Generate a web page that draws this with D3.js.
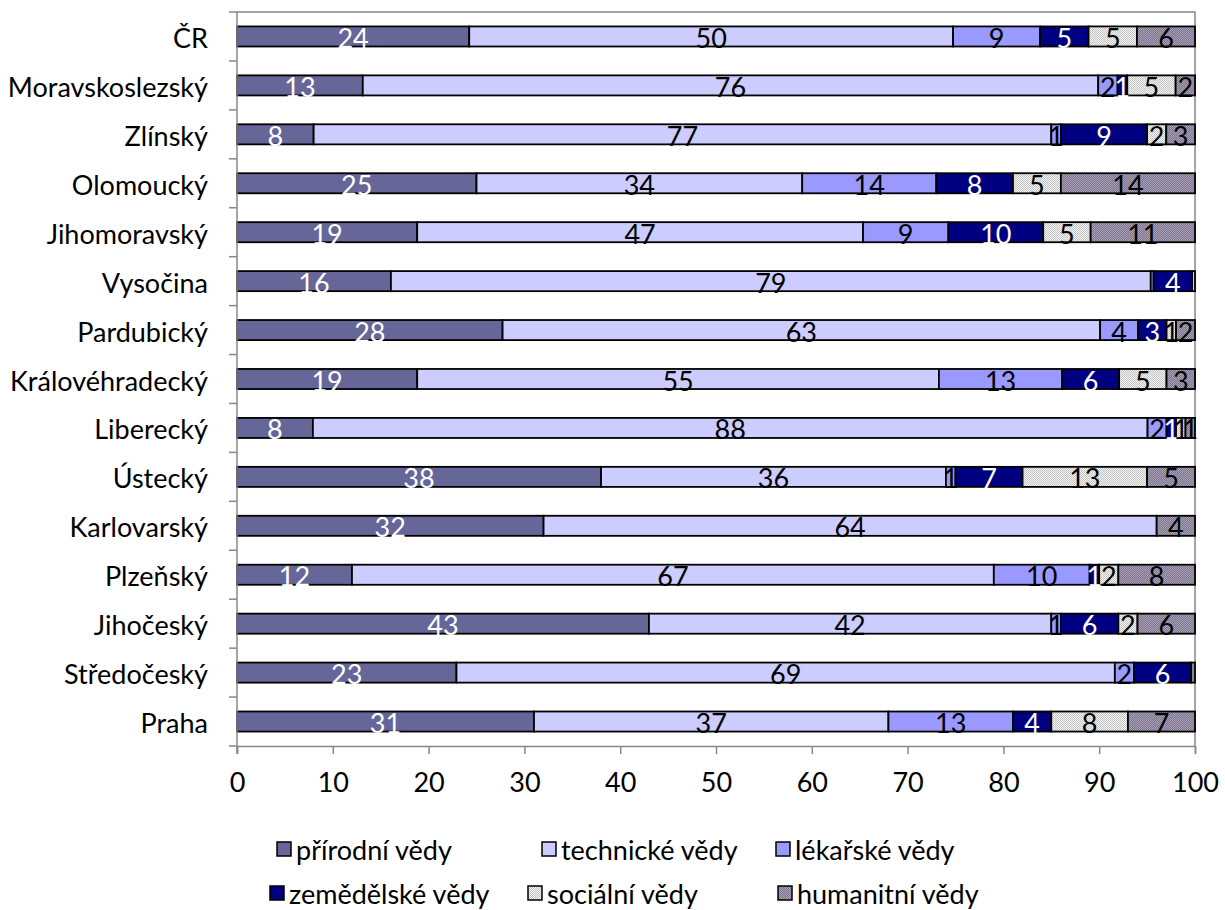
<!DOCTYPE html>
<html>
<head>
<meta charset="utf-8">
<script src="https://cdn.jsdelivr.net/npm/d3@7"></script>
<style>
  html, body { margin: 0; padding: 0; background: #fff; }
  svg { display: block; font-family: Lato, "Open Sans", sans-serif; }
</style>
</head>
<body>
<svg id="chart" width="1225" height="910"></svg>
<script>
// Regions (top to bottom) and share of each field of science, in percent
const regions = ["ČR", "Moravskoslezský", "Zlínský", "Olomoucký", "Jihomoravský", "Vysočina",
  "Pardubický", "Královéhradecký", "Liberecký", "Ústecký", "Karlovarský", "Plzeňský",
  "Jihočeský", "Středočeský", "Praha"];

const fields = ["přírodní vědy", "technické vědy", "lékařské vědy",
  "zemědělské vědy", "sociální vědy", "humanitní vědy"];

const prirodni    = [24, 13,  8, 25, 19, 16, 28, 19,  8, 38, 32, 12, 43, 23, 31];
const technicke   = [50, 76, 77, 34, 47, 79, 63, 55, 88, 36, 64, 67, 42, 69, 37];
const lekarske    = [ 9,  2,  1, 14,  9, 0.3, 4, 13,  2,  1,  0, 10,  1,  2, 13];
const zemedelske  = [ 5,  1,  9,  8, 10,  4,  3,  6,  1,  7,  0,  1,  6,  6,  4];
const socialni    = [ 5,  5,  2,  5,  5, 0.3, 1,  5,  1, 13,  0,  2,  2,  0,  8];
const humanitni   = [ 6,  2,  3, 14, 11,  0,  2,  3,  1,  5,  4,  8,  6, 0.4, 7];

const xTicks = [0, 10, 20, 30, 40, 50, 60, 70, 80, 90, 100];

const series = [prirodni, technicke, lekarske, zemedelske, socialni, humanitni];
const rows = regions.map((r, i) => {
  const o = { region: r };
  fields.forEach((f, j) => { o[f] = series[j][i]; });
  return o;
});

const FS = 27;
const svg = d3.select("#chart");
const defs = svg.append("defs");

// fine dotted fills for the two patterned series
function checker(id, a, b) {
  const p = defs.append("pattern").attr("id", id)
    .attr("width", 2).attr("height", 2).attr("patternUnits", "userSpaceOnUse");
  p.append("rect").attr("width", 2).attr("height", 2).attr("fill", a);
  p.append("rect").attr("width", 1).attr("height", 1).attr("fill", b);
  p.append("rect").attr("x", 1).attr("y", 1).attr("width", 1).attr("height", 1).attr("fill", b);
}
checker("patSoc", "#f4f4f4", "#c4c4c4");
checker("patHum", "#7c7390", "#a9a1b2");

const fills = ["#666699", "#CCCCFF", "#9999FF", "#000080", "url(#patSoc)", "url(#patHum)"];
const labelColors = ["#fff", "#000", "#000", "#fff", "#000", "#000"];

const plotL = 237, plotR = 1195, plotT = 12, plotB = 746;

const x = d3.scaleLinear().domain([0, 1]).range([plotL, plotR]);
const y = d3.scaleBand().domain(regions).range([plotT, plotB]).paddingInner(0.59).paddingOuter(0.295);
const yb = d3.scaleBand().domain(regions).range([plotT, plotB]);

const stacked = d3.stack().keys(fields).offset(d3.stackOffsetExpand)(rows);

// plot frame (top and right edges)
svg.append("path")
  .attr("d", `M${plotL},${plotT}H${plotR}V${plotB}`)
  .attr("fill", "none").attr("stroke", "#888").attr("stroke-width", 1.5);

// bars
const layer = svg.append("g").selectAll("g").data(stacked).join("g")
  .attr("fill", (d, i) => fills[i]);

layer.selectAll("rect").data(d => d).join("rect")
  .attr("x", d => x(d[0]))
  .attr("y", d => y(d.data.region))
  .attr("width", d => Math.max(0, x(d[1]) - x(d[0])))
  .attr("height", y.bandwidth())
  .attr("stroke", "#000")
  .attr("stroke-width", 1.8);

// value labels
const fmt = d3.format(".0f");
svg.append("g").selectAll("g").data(stacked).join("g")
  .attr("fill", (d, i) => labelColors[i])
  .selectAll("text")
  .data(d => d.map(v => ({ v, key: d.key })).filter(e => Math.round(e.v.data[e.key]) > 0))
  .join("text")
  .attr("x", d => (x(d.v[0]) + x(d.v[1])) / 2)
  .attr("y", d => y(d.v.data.region) + y.bandwidth() / 2 + 1)
  .attr("text-anchor", "middle")
  .attr("dominant-baseline", "central")
  .attr("font-size", FS)
  .text(d => fmt(d.v.data[d.key]));

// y axis: line, ticks at band edges, category names
const yAxis = svg.append("g");
yAxis.append("line").attr("x1", plotL).attr("x2", plotL).attr("y1", plotT).attr("y2", plotB + 8)
  .attr("stroke", "#888").attr("stroke-width", 1.5);
yAxis.selectAll("line.t").data(regions.concat([null])).join("line").attr("class", "t")
  .attr("x1", plotL - 8).attr("x2", plotL)
  .attr("y1", (d, i) => i < regions.length ? yb(d) : plotB)
  .attr("y2", (d, i) => i < regions.length ? yb(d) : plotB)
  .attr("stroke", "#888").attr("stroke-width", 1.5);
yAxis.selectAll("text").data(regions).join("text")
  .attr("x", 208)
  .attr("y", d => yb(d) + yb.bandwidth() / 2 + 1)
  .attr("text-anchor", "end")
  .attr("dominant-baseline", "central")
  .attr("font-size", FS)
  .attr("fill", "#000")
  .text(d => d);

// x axis
const xAxis = d3.axisBottom(x)
  .tickValues(xTicks.map(t => t / 100))
  .tickFormat(d => Math.round(d * 100))
  .tickSize(8).tickPadding(19);
const gx = svg.append("g").attr("transform", `translate(0,${plotB})`).call(xAxis);
gx.select(".domain").attr("stroke", "#888").attr("stroke-width", 1.5);
gx.selectAll(".tick line").attr("stroke", "#888").attr("stroke-width", 1.5);
gx.selectAll(".tick text").attr("font-size", FS).attr("fill", "#000")
  .attr("font-family", "Lato, 'Open Sans', sans-serif");

// legend
const legendPos = [[277, 849], [542, 849], [776, 849], [270, 893], [528, 893], [778, 893]];
const lg = svg.append("g").selectAll("g").data(fields).join("g")
  .attr("transform", (d, i) => `translate(${legendPos[i][0]},${legendPos[i][1]})`);
lg.append("rect").attr("x", 0).attr("y", -7).attr("width", 14).attr("height", 14)
  .attr("fill", (d, i) => fills[i]).attr("stroke", "#000").attr("stroke-width", 1.5);
lg.append("text").attr("x", 19).attr("y", 0)
  .attr("dominant-baseline", "central").attr("font-size", FS).attr("fill", "#000")
  .text(d => d);
</script>
</body>
</html>
